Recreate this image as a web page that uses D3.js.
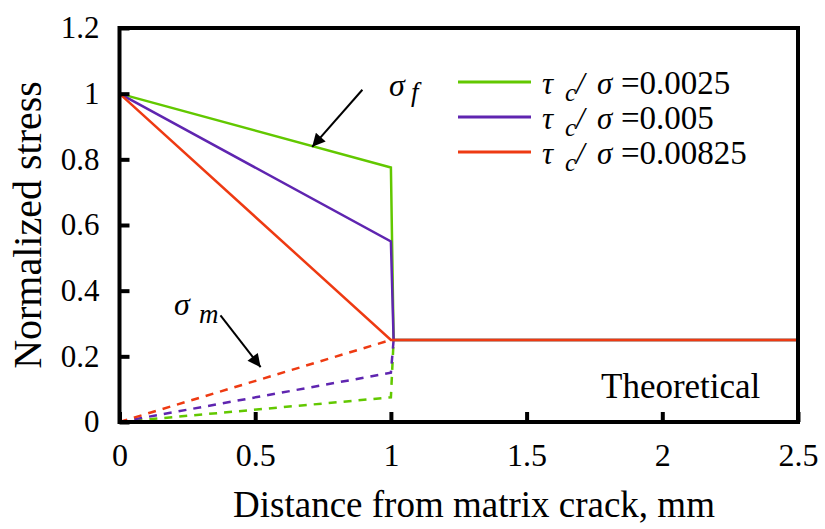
<!DOCTYPE html>
<html>
<head>
<meta charset="utf-8">
<script src="https://cdn.jsdelivr.net/npm/d3@7"></script>
<style>
  html, body { margin: 0; padding: 0; background: #fff; }
  svg { display: block; }
  svg text { font-family: "Liberation Serif", "Times New Roman", Tinos, "DejaVu Serif", serif; fill: #000; }
</style>
</head>
<body>
<svg id="chart" width="825" height="529"></svg>
<script>
// Shear-lag stress profiles near a matrix crack, for three interfacial shear ratios
const ratioLabels = ["0.0025", "0.005", "0.00825"];
const seriesColors = ["#62c800", "#5f25b0", "#ee3a12"];

// fibre stress (solid) - distance from crack, mm
const fiberX = [0, 1, 1.01, 2.5];
const fiberStress = [
  [1, 0.775, 0.25, 0.25],
  [1, 0.55, 0.25, 0.25],
  [1, 0.25, 0.25, 0.25]
];

// matrix stress (dashed)
const matrixX = [0, 1, 1.01];
const matrixStress = [
  [0, 0.075, 0.25],
  [0, 0.15, 0.25],
  [0, 0.25, 0.25]
];

const xTicks = [0, 0.5, 1, 1.5, 2, 2.5];
const yTicks = [0, 0.2, 0.4, 0.6, 0.8, 1, 1.2];

const SERIF = '"Liberation Serif", "Times New Roman", Tinos, "DejaVu Serif", serif';

const svg = d3.select("#chart");
const x = d3.scaleLinear().domain([0, 2.5]).range([119.5, 798]);
const y = d3.scaleLinear().domain([0, 1.2]).range([422, 28]);

const line = d3.line().x(d => x(d[0])).y(d => y(d[1]));

// matrix stress, dashed
matrixStress.forEach((vals, i) => {
  svg.append("path")
    .attr("d", line(matrixX.map((v, k) => [v, vals[k]])))
    .attr("fill", "none")
    .attr("stroke", seriesColors[i])
    .attr("stroke-width", 2.5)
    .attr("stroke-dasharray", "8,7");
});

// fibre stress, solid
fiberStress.forEach((vals, i) => {
  svg.append("path")
    .attr("d", line(fiberX.map((v, k) => [v, vals[k]])))
    .attr("fill", "none")
    .attr("stroke", seriesColors[i])
    .attr("stroke-width", 2.5)
    .attr("stroke-linejoin", "miter");
});

// frame
svg.append("rect")
  .attr("x", x(0)).attr("y", y(1.2))
  .attr("width", x(2.5) - x(0)).attr("height", y(0) - y(1.2))
  .attr("fill", "none").attr("stroke", "#000").attr("stroke-width", 4);

// inward ticks and labels
const xAxis = d3.axisBottom(x).tickValues(xTicks).tickSizeInner(-10).tickSizeOuter(0)
  .tickPadding(21).tickFormat(d3.format("~g"));
const gx = svg.append("g").attr("transform", `translate(0,${y(0)})`).call(xAxis)
  .attr("font-family", SERIF);
gx.select(".domain").remove();
gx.selectAll(".tick line").attr("stroke", "#000").attr("stroke-width", 4);
gx.selectAll(".tick text").attr("font-size", 32).attr("fill", "#000");

const yAxis = d3.axisLeft(y).tickValues(yTicks).tickSizeInner(-10).tickSizeOuter(0)
  .tickPadding(20).tickFormat(d3.format("~g"));
const gy = svg.append("g").attr("transform", `translate(${x(0)},0)`).call(yAxis)
  .attr("font-family", SERIF);
gy.select(".domain").remove();
gy.selectAll(".tick line").attr("stroke", "#000").attr("stroke-width", 4);
gy.selectAll(".tick text").attr("font-size", 31).attr("fill", "#000");

// axis titles
svg.append("text")
  .attr("x", 474).attr("y", 517)
  .attr("text-anchor", "middle").attr("font-size", 37)
  .text("Distance from matrix crack, mm");
svg.append("text")
  .attr("transform", "translate(41,225) rotate(-90)")
  .attr("text-anchor", "middle").attr("font-size", 40)
  .text("Normalized stress");

// legend
const legend = svg.append("g");
ratioLabels.forEach((lab, i) => {
  const ly = 82 + i * 35;
  legend.append("line")
    .attr("x1", 458).attr("x2", 531).attr("y1", ly).attr("y2", ly)
    .attr("stroke", seriesColors[i]).attr("stroke-width", 3);
  const t = legend.append("text").attr("x", 542).attr("y", ly + 12).attr("font-size", 31);
  t.append("tspan").attr("font-style", "italic").text("τ");
  t.append("tspan").attr("font-style", "italic").attr("font-size", 25)
    .attr("x", 565).attr("dy", 7).text("c");
  t.append("tspan").attr("font-style", "italic").attr("x", 576).attr("dy", -7).text("/");
  t.append("tspan").attr("font-style", "italic").attr("x", 597).text("σ");
  t.append("tspan").attr("font-size", 33).attr("x", 621).text("=" + lab);
});

// arrow head
svg.append("defs").append("marker")
  .attr("id", "arrowhead")
  .attr("viewBox", "0 0 10 10").attr("refX", 10).attr("refY", 5)
  .attr("markerWidth", 8).attr("markerHeight", 6.5)
  .attr("markerUnits", "strokeWidth")
  .attr("orient", "auto")
  .append("path").attr("d", "M0,0 L10,5 L0,10 z").attr("fill", "#000");

// fibre stress annotation
svg.append("line")
  .attr("x1", x(0.895)).attr("y1", y(1.012))
  .attr("x2", x(0.71)).attr("y2", y(0.838))
  .attr("stroke", "#000").attr("stroke-width", 2)
  .attr("marker-end", "url(#arrowhead)");
const sf = svg.append("text").attr("x", 389).attr("y", 96).attr("font-size", 32)
  .attr("font-style", "italic");
sf.append("tspan").text("σ");
sf.append("tspan").attr("x", 411).attr("dy", 5).attr("font-size", 27).text("f");

// matrix stress annotation
svg.append("line")
  .attr("x1", x(0.372)).attr("y1", y(0.325))
  .attr("x2", x(0.52)).attr("y2", y(0.167))
  .attr("stroke", "#000").attr("stroke-width", 2)
  .attr("marker-end", "url(#arrowhead)");
const sm = svg.append("text").attr("x", 174).attr("y", 315).attr("font-size", 32)
  .attr("font-style", "italic");
sm.append("tspan").text("σ");
sm.append("tspan").attr("x", 199).attr("dy", 8).attr("font-size", 27).text("m");

svg.append("text").attr("x", 601).attr("y", 398).attr("font-size", 35)
  .text("Theoretical");
</script>
</body>
</html>
